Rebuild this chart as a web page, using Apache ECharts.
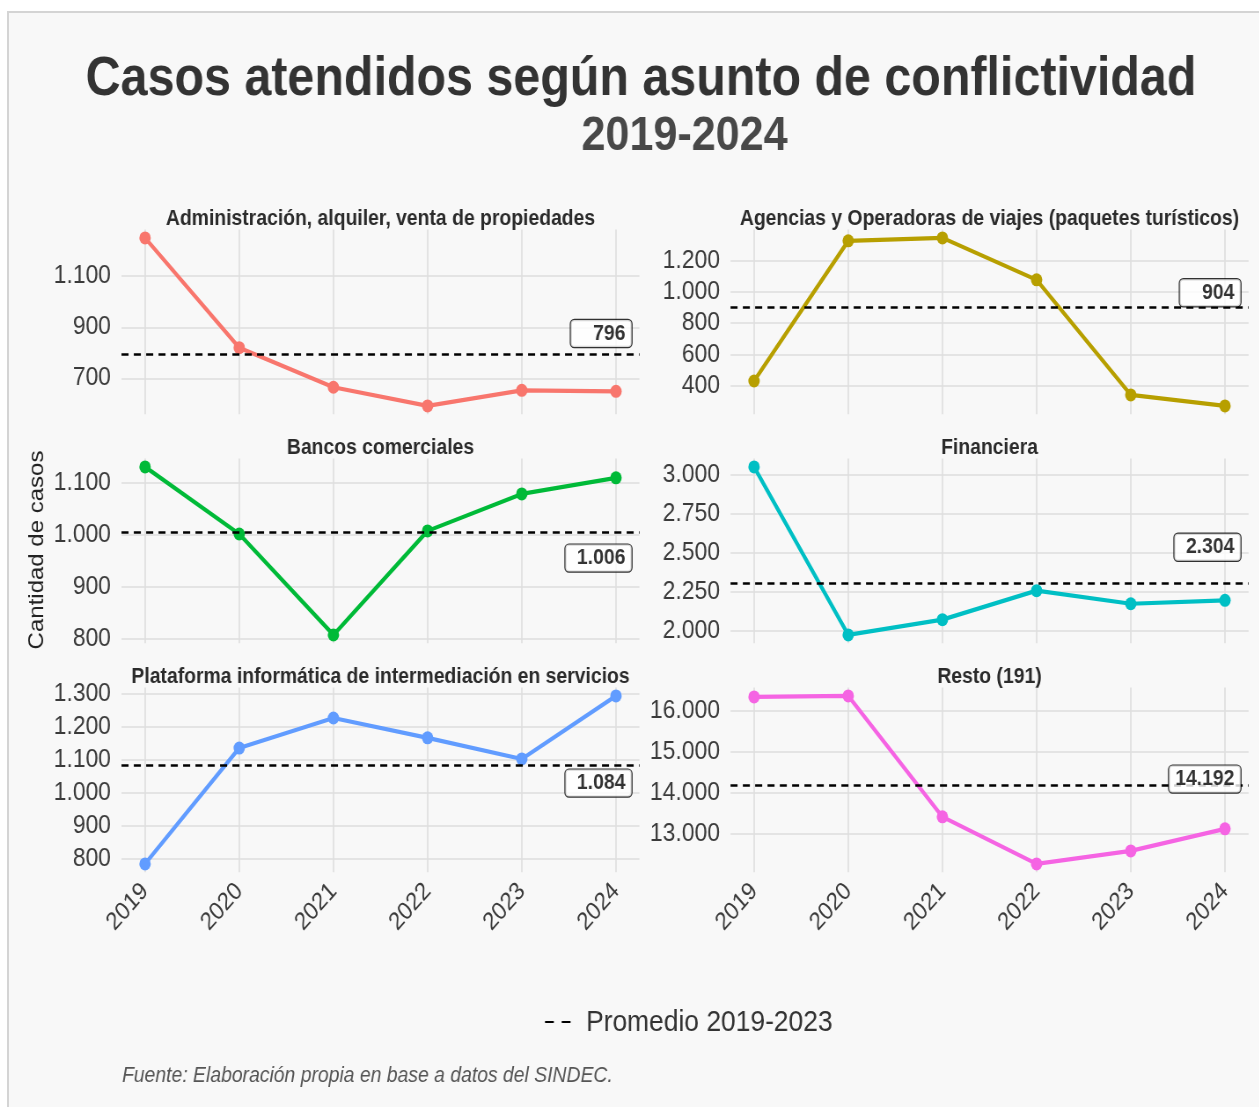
<!DOCTYPE html>
<html>
<head>
<meta charset="utf-8">
<title>Casos atendidos según asunto de conflictividad</title>
<script src="https://cdn.jsdelivr.net/npm/echarts@6/dist/echarts.min.js"></script>
<style>
  html, body { margin: 0; padding: 0; background: #fff; }
  body { width: 1259px; height: 1107px; overflow: hidden; position: relative; }
  #marco { position: absolute; left: 7px; top: 11px; width: 1270px; height: 1110px;
           background: #f8f8f8; border-left: 2px solid #d4d4d4; border-top: 2px solid #d4d4d4; }
  /* el gráfico original está algo comprimido en horizontal */
  #main { position: absolute; left: 0; top: 0; width: 1431px; height: 1107px;
          transform: scaleX(0.88); transform-origin: 0 0; }
</style>
</head>
<body>
<div id="marco"></div>
<div id="main"></div>
<script>
  // datos
  const anios = [2019, 2020, 2021, 2022, 2023, 2024];
  const asuntos = [
    'Administración, alquiler, venta de propiedades',
    'Agencias y Operadoras de viajes (paquetes turísticos)',
    'Bancos comerciales',
    'Financiera',
    'Plataforma informática de intermediación en servicios',
    'Resto (191)'
  ];
  const admin      = [1250, 820, 665, 592, 653, 649];
  const agencias   = [431, 1326, 1345, 1077, 342, 272];
  const bancos     = [1131, 1002, 808, 1008, 1079, 1110];
  const financiera = [3050, 1972, 2070, 2256, 2172, 2194];
  const plataforma = [785, 1136, 1227, 1167, 1103, 1294];
  const resto      = [16335, 16360, 13415, 12268, 12585, 13122];
  const promedios  = [796, 904, 1006, 2304, 1084, 14192];
  const ticksY = [
    [700, 900, 1100],
    [400, 600, 800, 1000, 1200],
    [800, 900, 1000, 1100],
    [2000, 2250, 2500, 2750, 3000],
    [800, 900, 1000, 1100, 1200, 1300],
    [13000, 14000, 15000, 16000]
  ];
  const valores = [admin, agencias, bancos, financiera, plataforma, resto];
  const colores = ['#F8766D', '#B79F00', '#00BA38', '#00BFC4', '#619CFF', '#F564E3'];

  // posicion de la etiqueta del promedio (factor sobre el promedio)
  const factorEtiqueta = [1.1, 1.1, 0.95, 1.1, 0.95, 1.01];

  const SX = 0.88;
  const px = x => x / SX;
  const FUENTE = '"Liberation Sans", Arial, Helvetica, sans-serif';
  const colIzq = [121.5, 639.5], colDer = [730.5, 1248.5];
  const filasTop = [229.5, 458.5, 687.5], altoPanel = 184.8;

  const miles = v => String(Math.round(v)).replace(/\B(?=(\d{3})+(?!\d))/g, '.');

  const chart = echarts.init(document.getElementById('main'), null, { renderer: 'canvas' });

  const grids = [], xAxes = [], yAxes = [], series = [], graphic = [];

  const texto = (x, y, text, size, extra) => ({
    type: 'text', x: x, y: y, silent: true,
    style: Object.assign({
      text: text, fontSize: size, fontFamily: FUENTE, fill: '#333',
      align: 'center', verticalAlign: 'middle', textAlign: 'center', textVerticalAlign: 'middle'
    }, extra || {})
  });

  valores.forEach((serie, i) => {
    const col = i % 2 ? colDer : colIzq;
    const fila = Math.floor(i / 2);
    const left = px(col[0]), width = px(col[1]) - px(col[0]);
    grids.push({ left: left, top: filasTop[fila], width: width, height: altoPanel,
                 containLabel: false, outerBoundsMode: 'none' });

    xAxes.push({
      type: 'value', gridIndex: i, min: 2018.75, max: 2024.25,
      axisLine: { show: false },
      axisTick: { show: false, customValues: anios },
      splitLine: { show: true, lineStyle: { color: '#dedede', width: 1.6 } },
      axisLabel: {
        show: fila === 2, customValues: anios, rotate: 45, margin: 15,
        fontSize: 25, fontFamily: FUENTE, color: '#3a3a3a',
        formatter: v => String(v)
      }
    });

    yAxes.push({
      type: 'value', gridIndex: i, scale: true,
      min: v => v.min - (v.max - v.min) * 0.05,
      max: v => v.max + (v.max - v.min) * 0.05,
      axisLine: { show: false },
      axisTick: { show: false, customValues: ticksY[i] },
      splitLine: { show: true, lineStyle: { color: '#dedede', width: 1.6 } },
      axisLabel: {
        customValues: ticksY[i], margin: 12,
        fontSize: 26, fontFamily: FUENTE, color: '#3a3a3a',
        formatter: v => miles(v)
      }
    });

    series.push({
      type: 'line', xAxisIndex: i, yAxisIndex: i, name: asuntos[i],
      data: anios.map((a, k) => [a, serie[k]]),
      symbol: 'circle', symbolSize: 13, showSymbol: true,
      lineStyle: { color: colores[i], width: 4.2 },
      itemStyle: { color: colores[i] },
      emphasis: { disabled: true },
      z: 3,
      markLine: {
        silent: true, symbol: 'none', animation: false,
        label: { show: false },
        lineStyle: { color: '#000', width: 2.6, type: [8, 6] },
        data: [{ yAxis: promedios[i] }]
      }
    });

    series.push({
      type: 'scatter', xAxisIndex: i, yAxisIndex: i,
      data: [[2024.17, promedios[i] * factorEtiqueta[i]]],
      symbolSize: 1, itemStyle: { color: 'rgba(0,0,0,0)' },
      emphasis: { disabled: true }, silent: true, z: 6,
      label: {
        show: true, position: 'left', distance: 0,
        formatter: () => miles(promedios[i]).padStart(6, ' '),
        fontSize: 22, fontWeight: 'bold', fontFamily: FUENTE, color: '#000',
        backgroundColor: '#fff', borderColor: '#000', borderWidth: 1.2, borderRadius: 4,
        padding: [3, 7, 2, 7]
      }
    });

    graphic.push(texto(left + width / 2, filasTop[fila] - 11, asuntos[i], 22,
      { fontWeight: 'bold', fill: '#2b2b2b' }));
  });

  // títulos, eje y, leyenda y fuente
  graphic.push(texto(px(641), 80, 'Casos atendidos según asunto de conflictividad', 55,
    { fontWeight: 'bold', fill: '#333' }));
  graphic.push(texto(px(684.5), 136, '2019-2024', 49, { fontWeight: 'bold', fill: '#484848' }));
  graphic.push(Object.assign(texto(px(37), 550, 'Cantidad de casos', 24, { fill: '#222' }),
    { rotation: Math.PI / 2 }));
  graphic.push({
    type: 'line', silent: true,
    shape: { x1: px(545), y1: 1022, x2: px(571), y2: 1022 },
    style: { stroke: '#000', lineWidth: 2, lineDash: [10, 9] }
  });
  graphic.push(texto(px(586), 1023, 'Promedio 2019-2023', 30,
    { align: 'left', textAlign: 'left', fill: '#333' }));
  graphic.push(texto(px(122), 1076, 'Fuente: Elaboración propia en base a datos del SINDEC.', 22,
    { align: 'left', textAlign: 'left', fill: '#555', fontStyle: 'italic' }));

  chart.setOption({
    backgroundColor: 'transparent',
    animation: false,
    grid: grids,
    xAxis: xAxes,
    yAxis: yAxes,
    series: series,
    graphic: { elements: graphic }
  });
</script>
</body>
</html>
